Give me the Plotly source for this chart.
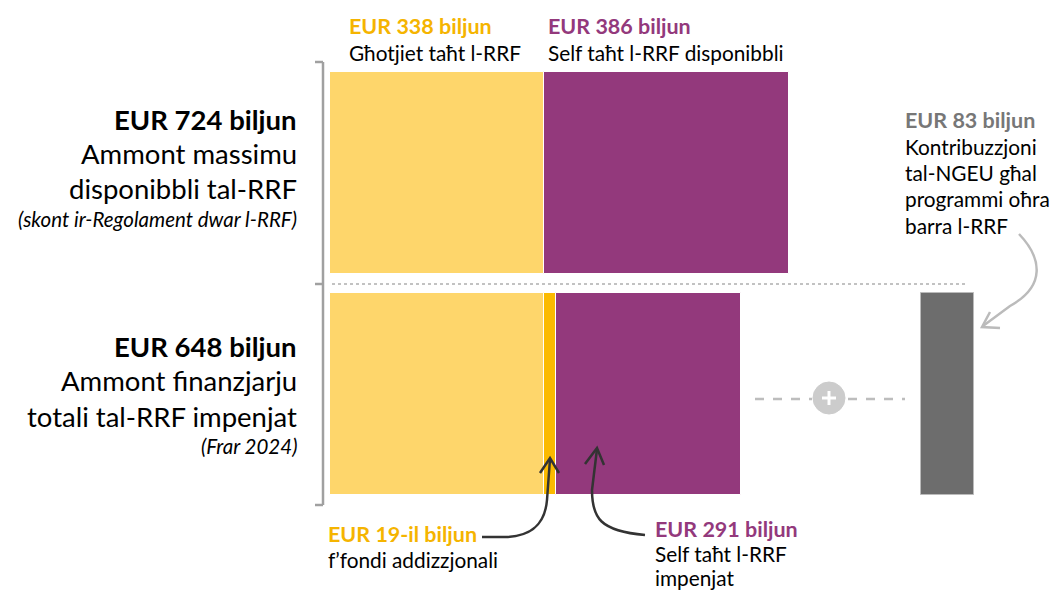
import plotly.graph_objects as go

# ---------------- data ----------------
rows = ["EUR 724 biljun", "EUR 648 biljun"]
grants = [338, 338]            # Għotjiet taħt l-RRF
additional = [0, 19]           # f'fondi addizzjonali
loans = [386, 291]             # Self taħt l-RRF
ngeu_other = [83]              # Kontribuzzjoni tal-NGEU għal programmi oħra

row_titles = ["EUR 724 biljun", "EUR 648 biljun"]
row_sub1 = ["Ammont massimu", "Ammont finanzjarju"]
row_sub2 = ["disponibbli tal-RRF", "totali tal-RRF impenjat"]
row_note = ["(skont ir-Regolament dwar l-RRF)", "(Frar 2024)"]

# ---------------- styling / layout ----------------
W, H = 1057, 592
X0PX = 330.0          # pixel where value 0 sits
SCALE = 0.634         # pixels per EUR billion
YELLOW = "#FED66B"
ORANGE = "#FBBA00"
PURPLE = "#93397C"
GREY = "#6D6D6D"
ORANGE_TXT = "#F5B400"
FONT = "Lato"

def X(px):
    return (px - X0PX) / SCALE

row_y = [173, 394]
bar_h = 202

fig = go.Figure()

# stacked bars
for i in range(2):
    base = 0
    for val, col in [(grants[i], YELLOW), (additional[i], ORANGE), (loans[i], PURPLE)]:
        if val > 0:
            fig.add_trace(go.Bar(
                orientation="h", y=[row_y[i]], x=[val], base=[base], width=bar_h,
                marker=dict(color=col, line=dict(color="white", width=1)),
                hoverinfo="skip"))
        base += val

# separate NGEU bar
fig.add_trace(go.Bar(
    orientation="h", y=[row_y[1]], x=ngeu_other, base=[X(921)], width=bar_h,
    marker=dict(color=GREY, line=dict(color="#BBBBBB", width=1)),
    hoverinfo="skip"))

shapes = []
# bracket
BR = "#A0A0A0"
shapes.append(dict(type="line", x0=X(323), x1=X(323), y0=62, y1=505, line=dict(color=BR, width=2.5)))
for yy in [62, 284, 505]:
    shapes.append(dict(type="line", x0=X(315), x1=X(323), y0=yy, y1=yy, line=dict(color=BR, width=2.5)))
# dotted separator
shapes.append(dict(type="line", x0=X(332), x1=X(966), y0=284, y1=284,
                   line=dict(color="#C2C2C2", width=2, dash="dot")))
# dashed connectors and plus circle
shapes.append(dict(type="line", x0=X(755), x1=X(812), y0=399, y1=399,
                   line=dict(color="#BDBDBD", width=2.5, dash="dash")))
shapes.append(dict(type="line", x0=X(848), x1=X(905), y0=399, y1=399,
                   line=dict(color="#BDBDBD", width=2.5, dash="dash")))
shapes.append(dict(type="circle", x0=X(813), x1=X(845), y0=382, y1=414,
                   fillcolor="#CCCCCC", line=dict(color="#CCCCCC", width=1)))
shapes.append(dict(type="line", x0=X(822), x1=X(836), y0=398, y1=398, line=dict(color="white", width=3)))
shapes.append(dict(type="line", x0=X(829), x1=X(829), y0=391, y1=405, line=dict(color="white", width=3)))

def path(pts_cmd):
    out = []
    for tok in pts_cmd:
        if isinstance(tok, str):
            out.append(tok)
        else:
            out.append(f"{X(tok[0]):.3f},{tok[1]:.3f}")
    return " ".join(out)

DARK = "#333333"
# arrow to 19 bn
shapes.append(dict(type="path", path=path(["M", (482, 537), "L", (506, 537), "C", (532, 536), (545, 524), (547, 500), "L", (550, 459)]),
                   line=dict(color=DARK, width=2.5)))
shapes.append(dict(type="path", path=path(["M", (540, 473), "L", (550, 458), "L", (559, 473)]),
                   line=dict(color=DARK, width=2.5)))
# arrow to 291 bn
shapes.append(dict(type="path", path=path(["M", (645, 535), "C", (600, 531), (592, 518), (592, 490), "L", (597, 449)]),
                   line=dict(color=DARK, width=2.5)))
shapes.append(dict(type="path", path=path(["M", (585, 464), "L", (597, 448), "L", (604, 465)]),
                   line=dict(color=DARK, width=2.5)))
# grey arrow to 83 bn bar
LG = "#BBBBBB"
shapes.append(dict(type="path", path=path(["M", (1019, 234), "C", (1042, 258), (1046, 286), (1010, 306), "L", (983, 326)]),
                   line=dict(color=LG, width=2.5)))
shapes.append(dict(type="path", path=path(["M", (990, 312), "L", (982, 327), "L", (1000, 328)]),
                   line=dict(color=LG, width=2.5)))

fig.update_layout(shapes=shapes)

ann = []
def txt(x, y, s, size, color="black", bold=False, italic=False, anchor="left"):
    t = s
    if bold:
        t = f"<b>{t}</b>"
    if italic:
        t = f"<i>{t}</i>"
    ann.append(dict(x=X(x), y=y, xref="x", yref="y", text=t, showarrow=False,
                    xanchor=anchor, yanchor="middle",
                    font=dict(family=FONT, size=size, color=color)))

SB, SR = 21.5, 20.8   # small bold / regular sizes
# top labels
txt(347, 26, f"EUR {grants[0]} biljun", SB, ORANGE_TXT, bold=True)
txt(347, 52, "Għotjiet taħt l-RRF", SR)
txt(546, 26, f"EUR {loans[0]} biljun", SB, PURPLE, bold=True)
txt(546, 52, "Self taħt l-RRF disponibbli", SR)

# left blocks
left_ys = [(119, 153, 188, 219), (346, 380, 416, 446)]
for i in range(2):
    a, b, c, d = left_ys[i]
    txt(299, a, row_titles[i], 27.5, bold=True, anchor="right")
    txt(299, b, row_sub1[i], 27.5, anchor="right")
    txt(299, c, row_sub2[i], 27.5, anchor="right")
    txt(299, d, row_note[i], 20.5, italic=True, anchor="right")

# right block
txt(903, 120, f"EUR {ngeu_other[0]} biljun", SB, "#777777", bold=True)
txt(903, 146, "Kontribuzzjoni", SR)
txt(903, 172, "tal-NGEU għal", SR)
txt(903, 198, "programmi oħra", SR)
txt(903, 225, "barra l-RRF", SR)

# bottom labels
txt(326, 534, f"EUR {additional[1]}-il biljun", SB, ORANGE_TXT, bold=True)
txt(326, 559, "f’fondi addizzjonali", SR)
txt(653, 529, f"EUR {loans[1]} biljun", SB, PURPLE, bold=True)
txt(653, 553, "Self taħt l-RRF", SR)
txt(653, 577, "impenjat", SR)

fig.update_layout(
    annotations=ann,
    width=W, height=H,
    margin=dict(l=0, r=0, t=0, b=0),
    paper_bgcolor="white", plot_bgcolor="white",
    showlegend=False, barmode="overlay", bargap=0,
    xaxis=dict(range=[X(0), X(W)], visible=False, fixedrange=True),
    yaxis=dict(range=[H, 0], visible=False, fixedrange=True),
)

fig.write_html("out.html", config=dict(displayModeBar=False),
               post_script="document.body.style.margin='0';document.body.style.overflow='hidden';")
